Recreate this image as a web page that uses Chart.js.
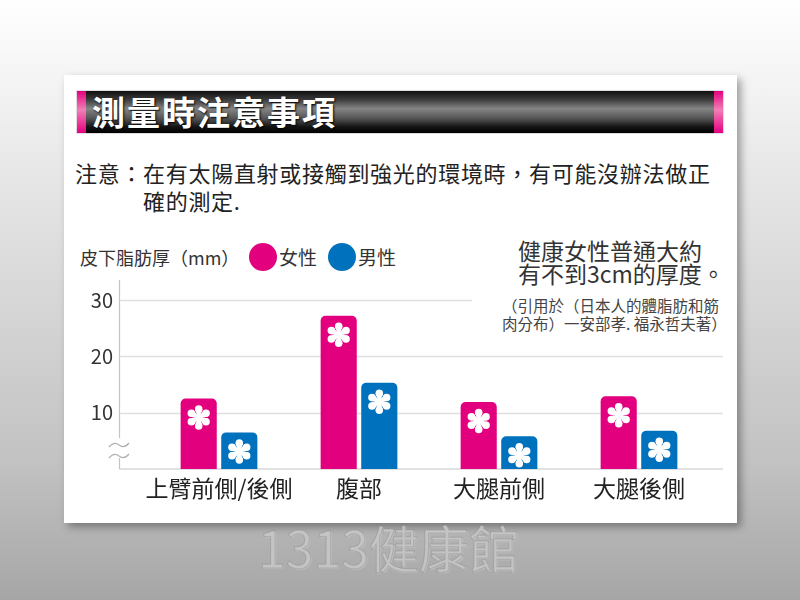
<!DOCTYPE html>
<html>
<head>
<meta charset="utf-8">
<script src="https://cdn.jsdelivr.net/npm/chart.js@4.4.1/dist/chart.umd.min.js"></script>
<style>
  html, body { margin: 0; padding: 0; }
  body {
    width: 800px; height: 600px; position: relative; overflow: hidden;
    background: linear-gradient(#ffffff 0%, #e6e6e6 30%, #c2c2c2 77%, #a6a6a6 100%);
    font-family: "Noto Sans CJK TC", "Noto Sans", sans-serif;
    color: #222;
  }
  .card {
    position: absolute; left: 64px; top: 75px; width: 673px; height: 448px;
    background: #fff; box-shadow: 4px 4px 8px rgba(0,0,0,0.35);
  }
  .header {
    position: absolute; left: 76px; top: 90px; width: 648px; height: 44px;
    background: linear-gradient(#101010 0%, #3a3a3a 20%, #858585 42%, #555 65%, #151515 85%, #000 100%);
    box-sizing: border-box; border: 1px solid #ddd;
  }
  .header .pk {
    position: absolute; top: 0; bottom: 0; width: 9px;
    background: linear-gradient(#e4007f 0%, #f27fb6 45%, #e4007f 100%);
  }
  .header .title {
    position: absolute; left: 15px; top: 3px; font-size: 33px; line-height: 35px; font-weight: bold;
    color: #fff; text-shadow: 1px 1px 2px #000; letter-spacing: 2px;
  }
  .txt { position: absolute; white-space: nowrap; }
  canvas { position: absolute; left: 0; top: 0; }
</style>
</head>
<body>
<div class="card"></div>
<div class="header">
  <div class="pk" style="left:0"></div>
  <div class="pk" style="right:0"></div>
  <div class="title">測量時注意事項</div>
</div>
<div class="txt" style="left:75px;top:160px;font-size:22px;line-height:24px;letter-spacing:0.7px">注意：在有太陽直射或接觸到強光的環境時，有可能沒辦法做正</div>
<div class="txt" style="left:143px;top:188px;font-size:22px;line-height:24px;letter-spacing:0.7px">確的測定.</div>
<div class="txt" style="left:80px;top:247px;font-size:18px;line-height:20px;color:#333">皮下脂肪厚（mm）</div>
<div id="legend"></div>
<div class="txt" style="left:518px;top:238px;font-size:23px;line-height:25px;color:#333">健康女性普通大約</div>
<div class="txt" style="left:518px;top:261px;font-size:23px;line-height:25px;color:#333">有不到3cm的厚度。</div>
<div class="txt" id="src" style="left:502px;top:296px;font-size:15.5px;line-height:18px;color:#444">（引用於（日本人的體脂肪和筋</div>
<div class="txt" style="left:502px;top:314px;font-size:15.5px;line-height:18px;color:#444">肉分布）一安部孝. 福永哲夫著）</div>
<div class="txt" style="left:258px;top:518px;font-size:50px;line-height:56px;color:#c4c4c4;-webkit-text-stroke:1px rgba(125,125,125,0.35);text-shadow:1px 1px 1px rgba(255,255,255,0.25)">1313健康館</div>
<canvas id="c" width="800" height="600"></canvas>
<script>
const categories = ['上臂前側/後側', '腹部', '大腿前側', '大腿後側'];
const seriesNames = ['女性', '男性'];
const femaleValues = [12.5, 27.2, 11.9, 12.9];
const maleValues = [6.5, 15.3, 5.8, 6.8];
const yTicks = [10, 20, 30];
const colors = ['#e3007f', '#0071bc'];

const font = '"Noto Sans CJK TC", "Noto Sans", sans-serif';

// legend dots + names, next to the axis title
const legend = document.getElementById('legend');
const legendPos = [249, 328];
seriesNames.forEach((name, i) => {
  const dot = document.createElement('div');
  dot.className = 'txt';
  dot.style.cssText = `left:${legendPos[i]}px;top:243px;width:28px;height:28px;border-radius:50%;background:${colors[i]}`;
  legend.appendChild(dot);
  const lab = document.createElement('div');
  lab.className = 'txt';
  lab.style.cssText = `left:${legendPos[i] + 30}px;top:246px;font-size:19px;line-height:21px;color:#333`;
  lab.textContent = name;
  legend.appendChild(lab);
});

// white asterisk with teardrop spokes
function drawAsterisk(ctx, cx, cy, r) {
  ctx.save();
  ctx.fillStyle = '#fff';
  const d = r * 0.68, re = r * 0.3, w = 1;
  for (let k = 0; k < 6; k++) {
    const a = Math.PI / 2 + k * Math.PI / 3;
    const ux = Math.cos(a), uy = -Math.sin(a);
    const px = -uy, py = ux;
    const ex = cx + ux * d, ey = cy + uy * d;
    ctx.beginPath();
    ctx.moveTo(cx + px * w, cy + py * w);
    ctx.lineTo(ex + px * re, ey + py * re);
    ctx.lineTo(ex - px * re, ey - py * re);
    ctx.lineTo(cx - px * w, cy - py * w);
    ctx.closePath();
    ctx.fill();
    ctx.beginPath();
    ctx.arc(ex, ey, re, 0, Math.PI * 2);
    ctx.fill();
  }
  ctx.beginPath();
  ctx.arc(cx, cy, 1.8, 0, Math.PI * 2);
  ctx.fill();
  ctx.restore();
}

const decor = {
  id: 'decor',
  beforeDatasetsDraw(chart) {
    const { ctx, chartArea } = chart;
    const y = chart.scales.y;
    const axisX = chartArea.left - 30;
    const right = chartArea.right + 14;
    const srcLeft = document.getElementById('src').offsetLeft - 30;
    ctx.save();
    ctx.strokeStyle = '#e0e0e0';
    ctx.lineWidth = 1.5;
    yTicks.forEach(v => {
      const py = Math.round(y.getPixelForValue(v)) + 0.5;
      ctx.beginPath();
      ctx.moveTo(axisX, py);
      ctx.lineTo(v === y.max ? srcLeft : right, py);
      ctx.stroke();
    });
    // y axis with a break near the bottom
    const bottom = chartArea.bottom;
    ctx.strokeStyle = '#c4c4c4';
    ctx.lineWidth = 1.2;
    ctx.beginPath();
    ctx.moveTo(axisX + 0.5, chartArea.top - 20);
    ctx.lineTo(axisX + 0.5, bottom - 31);
    ctx.moveTo(axisX + 0.5, bottom - 11);
    ctx.lineTo(axisX + 0.5, bottom);
    ctx.lineTo(right, bottom);
    ctx.stroke();
    ctx.strokeStyle = '#b0b0b0';
    [bottom - 24, bottom - 13].forEach(sy => {
      ctx.beginPath();
      ctx.moveTo(axisX - 10, sy + 2);
      ctx.quadraticCurveTo(axisX - 5, sy - 4, axisX, sy);
      ctx.quadraticCurveTo(axisX + 5, sy + 4, axisX + 10, sy - 2);
      ctx.stroke();
    });
    ctx.restore();
  },
  afterDatasetsDraw(chart) {
    const { ctx } = chart;
    chart.data.datasets.forEach((ds, i) => {
      chart.getDatasetMeta(i).data.forEach(bar => {
        drawAsterisk(ctx, bar.x, bar.y + 19, 12.5);
      });
    });
  }
};

new Chart(document.getElementById('c'), {
  type: 'bar',
  data: {
    labels: categories,
    datasets: [
      { label: seriesNames[0], data: femaleValues, backgroundColor: colors[0] },
      { label: seriesNames[1], data: maleValues, backgroundColor: colors[1] }
    ]
  },
  options: {
    responsive: false,
    animation: false,
    layout: { padding: { left: 0, right: 91, top: 300, bottom: 91 } },
    datasets: {
      bar: {
        categoryPercentage: 0.58,
        barPercentage: 0.89,
        borderRadius: { topLeft: 5, topRight: 5 },
        borderSkipped: 'bottom'
      }
    },
    plugins: {
      legend: { display: false },
      tooltip: { enabled: false }
    },
    scales: {
      x: {
        grid: { display: false, drawTicks: false },
        border: { display: false },
        ticks: { color: '#222', font: { family: font, size: 23 }, padding: 5, maxRotation: 0, autoSkip: false },
        afterFit(scale) { scale.height = 40; }
      },
      y: {
        min: 0,
        max: 30,
        afterBuildTicks(scale) { scale.ticks = yTicks.map(v => ({ value: v })); },
        grid: { display: false, drawTicks: false },
        border: { display: false },
        ticks: { color: '#333', font: { family: font, size: 20 }, padding: 36 },
        afterFit(scale) { scale.width = 149; }
      }
    }
  },
  plugins: [decor]
});
</script>
</body>
</html>
